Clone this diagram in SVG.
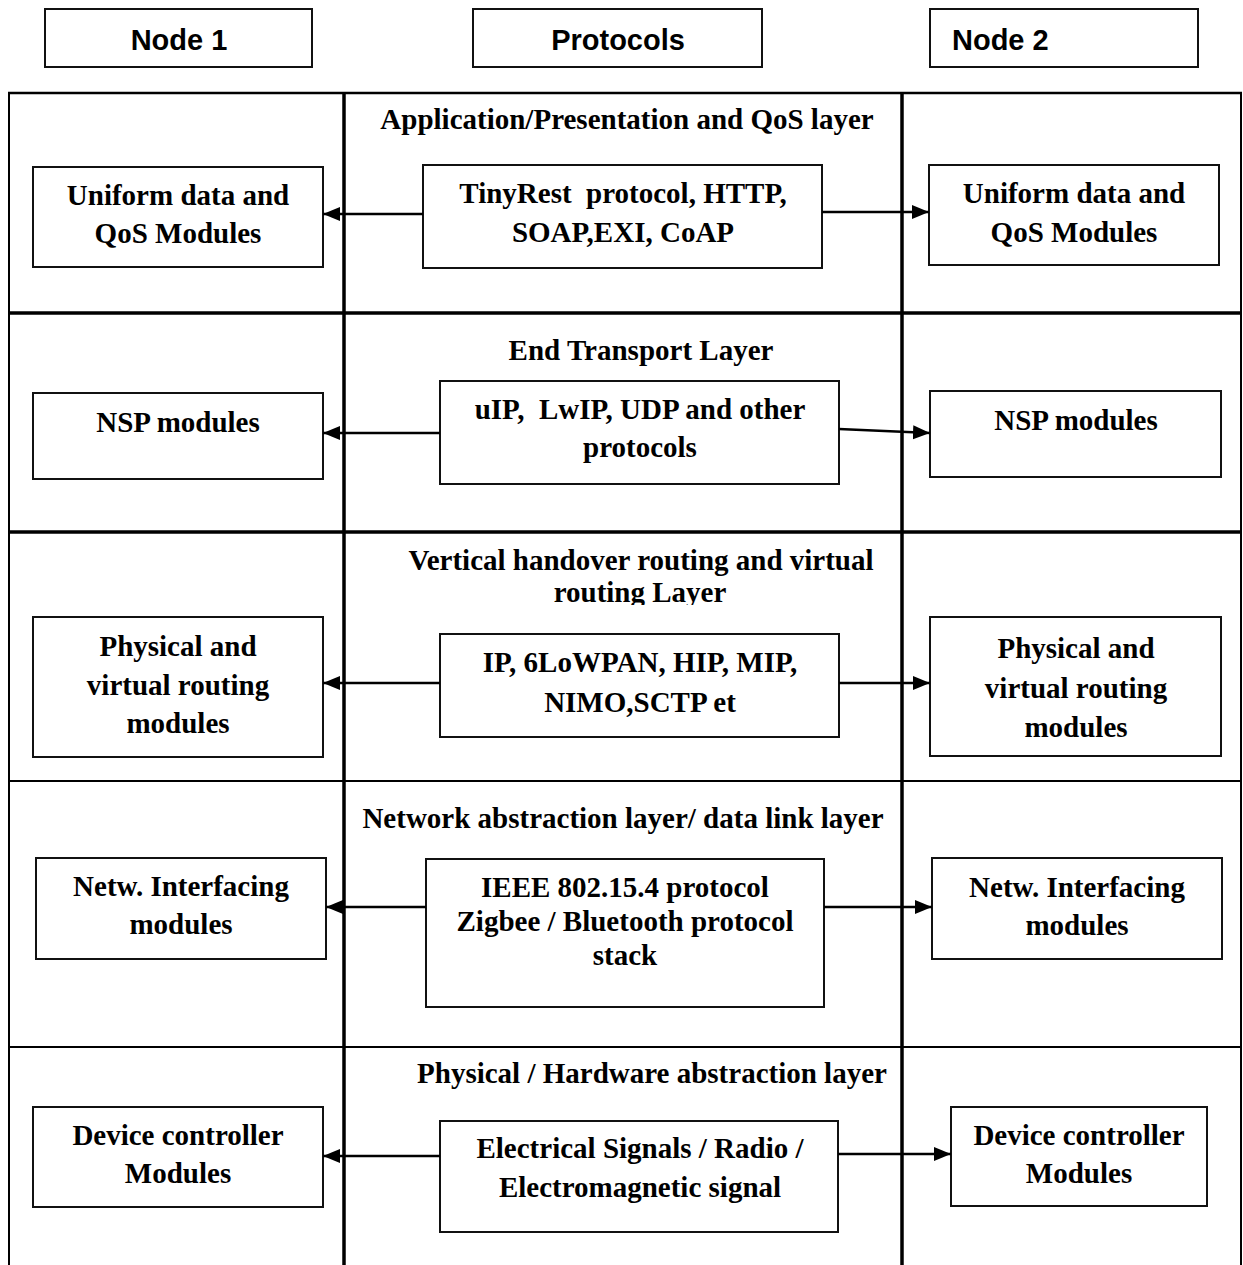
<svg xmlns="http://www.w3.org/2000/svg" width="1243" height="1265" viewBox="0 0 1243 1265">
<style>
.bg{fill:#ffffff}
.box{fill:#ffffff;stroke:#111111;stroke-width:2}
.frame{stroke:#000000;fill:none}
.t{font-family:"Liberation Serif","Times New Roman",serif;font-weight:bold;font-size:29px;text-anchor:middle;fill:#000000}
.h{font-family:"Liberation Sans",Arial,sans-serif;font-weight:bold;font-size:29px;fill:#000000}
.conn{stroke:#000000;stroke-width:2.5;fill:none;marker-end:url(#ah)}
</style>
<defs>
<marker id="ah" markerUnits="userSpaceOnUse" markerWidth="18" markerHeight="16" refX="17" refY="7" orient="auto">
<path d="M0,0 L17,7 L0,14 z" fill="#000000"/>
</marker>
<clipPath id="clipTitle3"><rect x="346" y="533" width="554" height="72"/></clipPath>
</defs>
<rect class="bg" x="0" y="0" width="1243" height="1265"/>

<g id="headers">
<g id="header-node1"><rect class="box" x="45" y="9" width="267" height="58"/><text class="h" x="179" y="50" text-anchor="middle">Node 1</text></g>
<g id="header-protocols"><rect class="box" x="473" y="9" width="289" height="58"/><text class="h" x="618" y="50" text-anchor="middle">Protocols</text></g>
<g id="header-node2"><rect class="box" x="930" y="9" width="268" height="58"/><text class="h" x="952" y="50">Node 2</text></g>
</g>

<g id="frame">
<line class="frame" x1="8" y1="93" x2="1242" y2="93" stroke-width="2.5"/>
<line class="frame" x1="9" y1="92" x2="9" y2="1265" stroke-width="2"/>
<line class="frame" x1="1241" y1="92" x2="1241" y2="1265" stroke-width="2"/>
<line class="frame" x1="9" y1="313" x2="1241" y2="313" stroke-width="3.5"/>
<line class="frame" x1="9" y1="532" x2="1241" y2="532" stroke-width="3.5"/>
<line class="frame" x1="9" y1="781" x2="1241" y2="781" stroke-width="2"/>
<line class="frame" x1="9" y1="1047" x2="1241" y2="1047" stroke-width="2"/>
<line class="frame" x1="344" y1="92" x2="344" y2="1265" stroke-width="3.5"/>
<line class="frame" x1="902" y1="92" x2="902" y2="1265" stroke-width="3.5"/>
</g>

<g id="layer-titles">
<text class="t" x="627" y="129">Application/Presentation and QoS layer</text>
<text class="t" x="641" y="360">End Transport Layer</text>
<text class="t" x="641" y="570">Vertical handover routing and virtual</text>
<text class="t" x="640" y="602" clip-path="url(#clipTitle3)">routing Layer</text>
<text class="t" x="623" y="828">Network abstraction layer/ data link layer</text>
<text class="t" x="652" y="1083">Physical / Hardware abstraction layer</text>
</g>

<g id="row1-node1"><rect class="box" x="33" y="167" width="290" height="100"/><text class="t" x="178" y="205">Uniform data and</text><text class="t" x="178" y="243">QoS Modules</text></g>
<g id="row1-proto"><rect class="box" x="423" y="165" width="399" height="103"/><text class="t" x="623" y="203" xml:space="preserve">TinyRest  protocol, HTTP,</text><text class="t" x="623" y="242">SOAP,EXI, CoAP</text></g>
<g id="row1-node2"><rect class="box" x="929" y="165" width="290" height="100"/><text class="t" x="1074" y="203">Uniform data and</text><text class="t" x="1074" y="242">QoS Modules</text></g>

<g id="row2-node1"><rect class="box" x="33" y="393" width="290" height="86"/><text class="t" x="178" y="432">NSP modules</text></g>
<g id="row2-proto"><rect class="box" x="440" y="381" width="399" height="103"/><text class="t" x="640" y="419" xml:space="preserve">uIP,  LwIP, UDP and other</text><text class="t" x="640" y="457">protocols</text></g>
<g id="row2-node2"><rect class="box" x="930" y="391" width="291" height="86"/><text class="t" x="1076" y="430">NSP modules</text></g>

<g id="row3-node1"><rect class="box" x="33" y="617" width="290" height="140"/><text class="t" x="178" y="656">Physical and</text><text class="t" x="178" y="695">virtual routing</text><text class="t" x="178" y="733">modules</text></g>
<g id="row3-proto"><rect class="box" x="440" y="634" width="399" height="103"/><text class="t" x="640" y="672">IP, 6LoWPAN, HIP, MIP,</text><text class="t" x="640" y="712">NIMO,SCTP et</text></g>
<g id="row3-node2"><rect class="box" x="930" y="617" width="291" height="139"/><text class="t" x="1076" y="658">Physical and</text><text class="t" x="1076" y="698">virtual routing</text><text class="t" x="1076" y="737">modules</text></g>

<g id="row4-node1"><rect class="box" x="36" y="858" width="290" height="101"/><text class="t" x="181" y="896">Netw. Interfacing</text><text class="t" x="181" y="934">modules</text></g>
<g id="row4-proto"><rect class="box" x="426" y="859" width="398" height="148"/><text class="t" x="625" y="897">IEEE 802.15.4 protocol</text><text class="t" x="625" y="931">Zigbee / Bluetooth protocol</text><text class="t" x="625" y="965">stack</text></g>
<g id="row4-node2"><rect class="box" x="932" y="858" width="290" height="101"/><text class="t" x="1077" y="897">Netw. Interfacing</text><text class="t" x="1077" y="935">modules</text></g>

<g id="row5-node1"><rect class="box" x="33" y="1107" width="290" height="100"/><text class="t" x="178" y="1145">Device controller</text><text class="t" x="178" y="1183">Modules</text></g>
<g id="row5-proto"><rect class="box" x="440" y="1121" width="398" height="111"/><text class="t" x="640" y="1158">Electrical Signals / Radio /</text><text class="t" x="640" y="1197">Electromagnetic signal</text></g>
<g id="row5-node2"><rect class="box" x="951" y="1107" width="256" height="99"/><text class="t" x="1079" y="1145">Device controller</text><text class="t" x="1079" y="1183">Modules</text></g>

<g id="connectors">
<line class="conn" x1="423" y1="214" x2="323" y2="214"/>
<line class="conn" x1="822" y1="212" x2="929" y2="212"/>
<line class="conn" x1="440" y1="433" x2="323" y2="433"/>
<line class="conn" x1="839" y1="429" x2="930" y2="433"/>
<line class="conn" x1="440" y1="683" x2="323" y2="683"/>
<line class="conn" x1="839" y1="683" x2="930" y2="683"/>
<line class="conn" x1="426" y1="907" x2="326" y2="907"/>
<line class="conn" x1="824" y1="907" x2="932" y2="907"/>
<line class="conn" x1="440" y1="1156" x2="323" y2="1156"/>
<line class="conn" x1="838" y1="1154" x2="951" y2="1154"/>
</g>
</svg>
